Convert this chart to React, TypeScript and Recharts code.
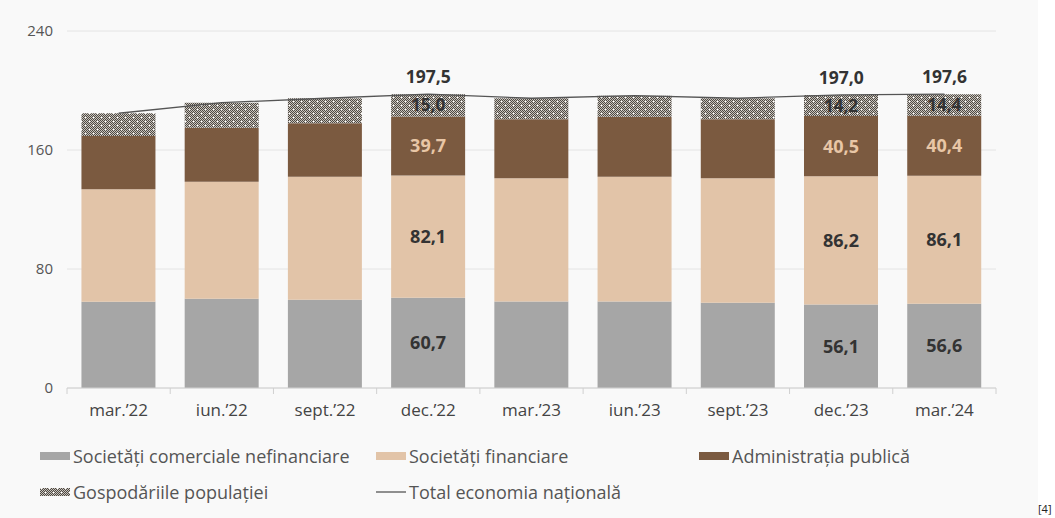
import React from 'react';
import { ComposedChart, Bar, Line, XAxis, YAxis, CartesianGrid, Legend, LabelList } from 'recharts';

const periods = ['mar.’22', 'iun.’22', 'sept.’22', 'dec.’22', 'mar.’23', 'iun.’23', 'sept.’23', 'dec.’23', 'mar.’24'];
const nefinanciare = [58.0, 60.0, 59.4, 60.7, 58.2, 58.2, 57.3, 56.1, 56.6];
const financiare = [75.6, 78.7, 82.6, 82.1, 82.8, 83.8, 83.7, 86.2, 86.1];
const administratie = [35.8, 36.3, 36.0, 39.7, 39.6, 40.4, 39.6, 40.5, 40.4];
const gospodarii = [15.3, 16.8, 16.8, 15.0, 14.2, 14.1, 14.2, 14.2, 14.4];
const total = [184.7, 191.8, 194.8, 197.5, 194.8, 196.5, 194.8, 197.0, 197.6];
const labeled = [3, 7, 8];
const yTicks = [0, 80, 160, 240];

const fmt = (v: number) => v.toFixed(1).replace('.', ',');
const lbl = (arr: number[], i: number) => (labeled.includes(i) ? fmt(arr[i]) : null);

const data = periods.map((p, i) => ({
  period: p,
  nef: nefinanciare[i],
  fin: financiare[i],
  adm: administratie[i],
  gos: gospodarii[i],
  total: total[i],
  nefLbl: lbl(nefinanciare, i),
  finLbl: lbl(financiare, i),
  admLbl: lbl(administratie, i),
  gosLbl: lbl(gospodarii, i),
  totalLbl: lbl(total, i),
}));

const FONT = '"Open Sans", sans-serif';
const W = 1055;
const H = 518;
const LEGEND_H = 70;
const X_AXIS_H = 30;
// plot area: x 67..996, y 31..388
const margin = { top: 31, right: 59, bottom: H - 388 - X_AXIS_H - LEGEND_H, left: 10 };
const yAxisWidth = 57;
const band = (W - margin.left - margin.right - yAxisWidth) / periods.length;

const C = {
  nef: '#a6a6a6',
  fin: '#e2c4a8',
  adm: '#7b5a40',
  line: '#555555',
};

const XTick = (props: any) => {
  const { x, y, payload, index } = props;
  const left = x - band / 2;
  return (
    <g>
      <line x1={left} y1={y} x2={left} y2={y + 6} stroke="#d0d0d0" />
      {index === periods.length - 1 && (
        <line x1={x + band / 2} y1={y} x2={x + band / 2} y2={y + 6} stroke="#d0d0d0" />
      )}
      <text x={x} y={y + 28} textAnchor="middle" fill="#444" fontSize={17} fontFamily={FONT}>
        {payload.value}
      </text>
    </g>
  );
};

const legendItems = [
  { name: 'Societăți comerciale nefinanciare', kind: 'rect', color: C.nef, x: 40, y: 0 },
  { name: 'Societăți financiare', kind: 'rect', color: C.fin, x: 376, y: 0 },
  { name: 'Administrația publică', kind: 'rect', color: C.adm, x: 699, y: 0 },
  { name: 'Gospodăriile populației', kind: 'hatch', color: '', x: 40, y: 36 },
  { name: 'Total economia națională', kind: 'line', color: C.line, x: 376, y: 36 },
];

const LegendContent = () => (
  <div style={{ position: 'relative', width: W, height: LEGEND_H, fontFamily: FONT }}>
    {legendItems.map((it) => (
      <div
        key={it.name}
        style={{ position: 'absolute', left: it.x, top: it.y, display: 'flex', alignItems: 'center', height: 24 }}
      >
        <svg width={30} height={10} style={{ marginRight: 3 }}>
          {it.kind === 'rect' && <rect x={0} y={1} width={30} height={8} fill={it.color} />}
          {it.kind === 'hatch' && <rect x={0} y={1} width={30} height={8} fill="url(#hatchGos)" />}
          {it.kind === 'line' && <line x1={0} y1={5} x2={30} y2={5} stroke={it.color} strokeWidth={1.3} />}
        </svg>
        <span style={{ fontSize: 18, color: '#555', whiteSpace: 'nowrap' }}>{it.name}</span>
      </div>
    ))}
  </div>
);

const checker: React.ReactNode[] = [];
for (let yy = 0; yy < 8; yy++) {
  for (let xx = 0; xx < 8; xx++) {
    if ((xx + yy) % 2 === 0) checker.push(<rect key={`${xx}-${yy}`} x={xx} y={yy} width={1} height={1} fill="#4d4843" />);
  }
}

export default function App() {
  return (
    <div style={{ position: 'relative', width: W, height: H, background: '#fff', fontFamily: FONT, overflow: 'hidden' }}>
      <style>{'body{margin:0}'}</style>
      <div style={{ position: 'absolute', left: 0, top: 0, width: 1038, height: H, background: '#f9f9f9' }} />
      <div style={{ position: 'absolute', left: 0, top: 0 }}>
        <ComposedChart width={W} height={H} data={data} margin={margin} barCategoryGap="14%">
          <defs>
            <pattern id="hatchGos" width="8" height="8" patternUnits="userSpaceOnUse">
              <rect width="8" height="8" fill="#c9c4bc" />
              {checker}
              <rect x={1} y={1} width={1.2} height={1.2} fill="#ffffff" />
              <rect x={5} y={5} width={1.2} height={1.2} fill="#ffffff" />
            </pattern>
          </defs>
          <CartesianGrid vertical={false} stroke="#e4e4e4" />
          <XAxis
            dataKey="period"
            axisLine={{ stroke: '#d0d0d0' }}
            tickLine={false}
            tickSize={0}
            tickMargin={0}
            tick={<XTick />}
            interval={0}
            height={X_AXIS_H}
          />
          <YAxis
            domain={[0, 240]}
            ticks={yTicks}
            axisLine={false}
            tickLine={false}
            tickSize={0}
            tickMargin={14}
            width={yAxisWidth}
            tick={{ fill: '#555', fontSize: 15, fontFamily: FONT }}
          />
          <Legend verticalAlign="bottom" wrapperStyle={{ left: 0, top: 444, width: W, height: LEGEND_H }} content={<LegendContent />} />
          <Bar dataKey="nef" stackId="a" fill={C.nef} isAnimationActive={false} name="Societăți comerciale nefinanciare">
            <LabelList dataKey="nefLbl" position="center" fill="#333" fontSize={18} fontWeight={700} fontFamily={FONT} />
          </Bar>
          <Bar dataKey="fin" stackId="a" fill={C.fin} isAnimationActive={false} name="Societăți financiare">
            <LabelList dataKey="finLbl" position="center" fill="#333" fontSize={18} fontWeight={700} fontFamily={FONT} />
          </Bar>
          <Bar dataKey="adm" stackId="a" fill={C.adm} isAnimationActive={false} name="Administrația publică">
            <LabelList dataKey="admLbl" position="center" fill="#e8c6a6" fontSize={18} fontWeight={700} fontFamily={FONT} />
          </Bar>
          <Bar dataKey="gos" stackId="a" fill="url(#hatchGos)" isAnimationActive={false} name="Gospodăriile populației">
            <LabelList dataKey="gosLbl" position="center" fill="#333" fontSize={17} fontWeight={700} fontFamily={FONT} />
          </Bar>
          <Line
            dataKey="total"
            type="linear"
            stroke={C.line}
            strokeWidth={1.3}
            dot={false}
            activeDot={false}
            isAnimationActive={false}
            name="Total economia națională"
          >
            <LabelList dataKey="totalLbl" position="top" offset={11} fill="#333" fontSize={17.5} fontWeight={700} fontFamily={FONT} />
          </Line>
        </ComposedChart>
      </div>
      <div style={{ position: 'absolute', left: 1038, top: 502, fontSize: 11, lineHeight: '13px', color: '#222', fontFamily: FONT, whiteSpace: 'nowrap' }}>[4]</div>
    </div>
  );
}
